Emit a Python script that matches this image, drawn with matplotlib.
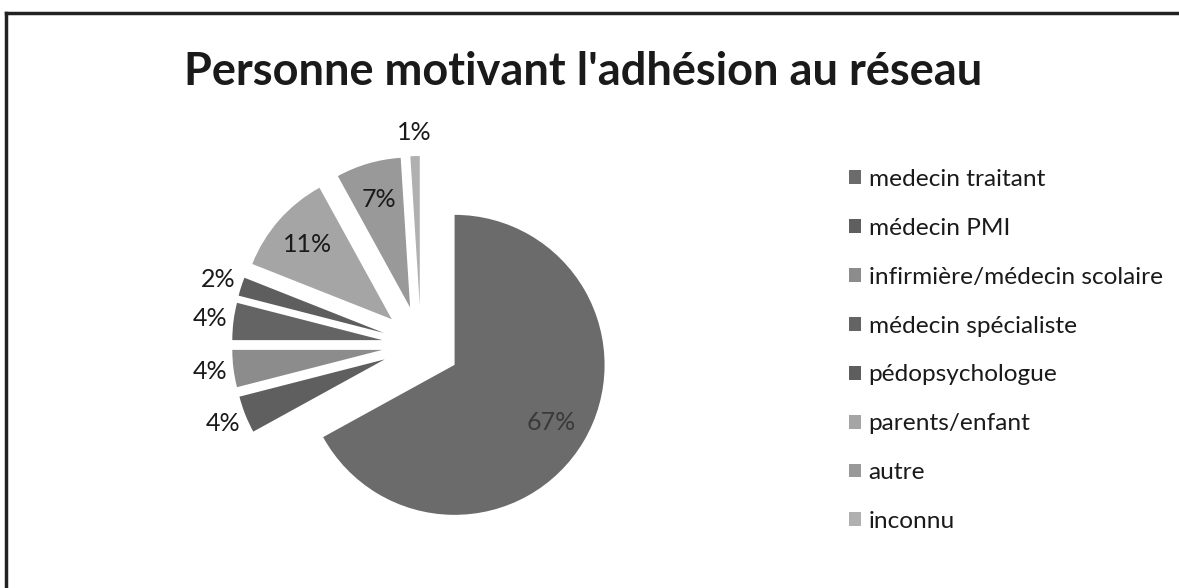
import matplotlib
matplotlib.use('Agg')
import matplotlib.pyplot as plt
from matplotlib.lines import Line2D
import numpy as np

plt.rcParams['font.family'] = ['Lato', 'DejaVu Sans']

title = "Personne motivant l'adhésion au réseau"
categories = ['medecin traitant', 'médecin PMI', 'infirmière/médecin scolaire',
              'médecin spécialiste', 'pédopsychologue', 'parents/enfant',
              'autre', 'inconnu']
values = [67, 4, 4, 4, 2, 11, 7, 1]
colors = ['#6b6b6b', '#5f5f5f', '#8c8c8c', '#646464', '#5e5e5e', '#a5a5a5',
          '#999999', '#b0b0b0']
inside = [True, False, False, False, False, True, True, False]

W, H = 1179, 588
fig = plt.figure(figsize=(W / 100, H / 100), dpi=100)

# pie axes: centre at (421, 345) px, radius 150 px
cx, cy, half, rad = 421, 345, 230, 150
ax = fig.add_axes([(cx - half) / W, (H - cy - half) / H, 2 * half / W, 2 * half / H])
wedges, _ = ax.pie(values, colors=colors, startangle=90, counterclock=False,
                   explode=[0.26] * len(values), wedgeprops=dict(linewidth=0))
ax.set_xlim(-half / rad, half / rad)
ax.set_ylim(-half / rad, half / rad)
ax.axis('off')

for w, v, inn in zip(wedges, values, inside):
    mid = np.deg2rad((w.theta1 + w.theta2) / 2)
    d = 0.75 if inn else 1.16
    x = w.center[0] + d * np.cos(mid)
    y = w.center[1] + d * np.sin(mid)
    col = '#3a3a3a' if v == max(values) else '#1a1a1a'
    ax.text(x, y, f'{v}%', ha='center', va='center', fontsize=18, color=col)

fig.text(583 / W, 1 - 72 / H, title, ha='center', va='center',
         fontsize=32.5, fontweight='bold', color='#1a1a1a')

leg = fig.legend(wedges, categories, loc='upper left',
                 bbox_to_anchor=(827 / W, 1 - 147 / H), frameon=False,
                 fontsize=17.6, labelspacing=1.14, handlelength=0.5,
                 handleheight=0.5, handletextpad=0.3)
for t in leg.get_texts():
    t.set_color('#1a1a1a')

# scanned frame: top and left edges only
x0, y0 = 6 / W, 1 - 13 / H
fig.add_artist(Line2D([x0, 1], [y0, y0], color='#222222', linewidth=2.5))
fig.add_artist(Line2D([x0, x0], [0, y0], color='#222222', linewidth=2.5))

fig.savefig('out.png', dpi=100)
